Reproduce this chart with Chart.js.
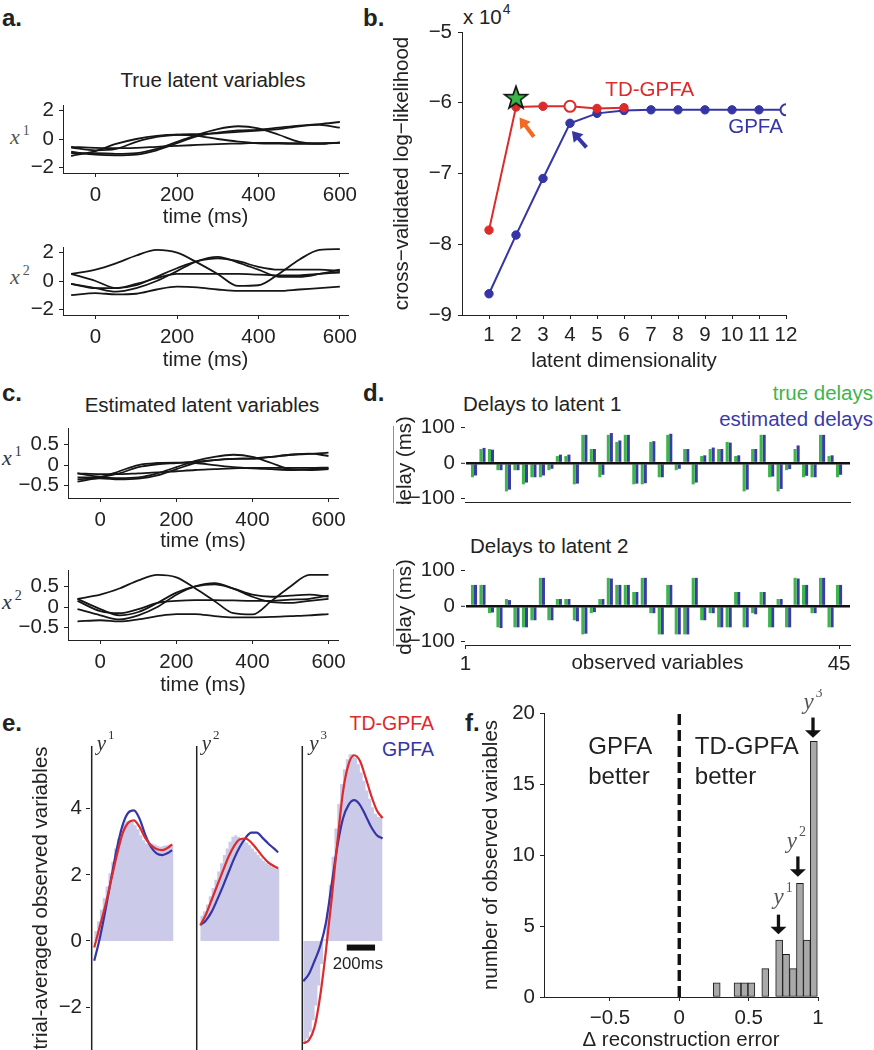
<!DOCTYPE html>
<html><head><meta charset="utf-8">
<script src="https://cdn.jsdelivr.net/npm/chart.js@4.4.0/dist/chart.umd.min.js"></script>
<style>
html,body{margin:0;padding:0;background:#fff;}
#page{position:relative;width:874px;height:1050px;overflow:hidden;font-family:'Liberation Sans',Arial,Helvetica,sans-serif;color:#222;}
canvas{position:absolute;}
.t{position:absolute;white-space:nowrap;font-size:20.5px;line-height:24px;}
.L{position:absolute;font-weight:bold;font-size:24px;line-height:28px;}
.m{position:absolute;white-space:nowrap;font-family:'Liberation Serif','DejaVu Serif',serif;font-style:italic;font-size:22px;line-height:26px;}
.sp{font-style:normal;font-size:14px;position:relative;top:-9px;margin-left:3px;}
.c{transform:translateX(-50%);}
</style></head>
<body><div id="page">
<div class="L" style="left:2px;top:4px">a.</div>
<div class="L" style="left:363px;top:4px">b.</div>
<div class="L" style="left:2px;top:379px">c.</div>
<div class="L" style="left:363px;top:379px">d.</div>
<div class="L" style="left:2px;top:709px">e.</div>
<div class="L" style="left:465px;top:709px">f.</div>
<div class="t c" style="left:213px;top:68px">True latent variables</div>
<div class="t c" style="left:202px;top:393px">Estimated latent variables</div>
<div class="t" style="left:463px;top:392px">Delays to latent 1</div>
<div class="t" style="left:470px;top:534px">Delays to latent 2</div>
<div class="t" style="right:1px;top:381px;color:#3cb64b">true delays</div>
<div class="t" style="right:1px;top:407px;color:#3a3aa8">estimated delays</div>
<div class="t" style="left:463px;top:5px">x 10<span style="font-size:14px;position:relative;top:-10px;margin-left:1px">4</span></div>
<div class="t" style="right:440px;top:711px;font-size:19.5px;color:#dd2a2a">TD-GPFA</div>
<div class="t" style="right:440px;top:737px;font-size:19.5px;color:#3535a5">GPFA</div>
<div class="m" style="left:10px;top:124px;color:#555"><i>x</i><span class="sp">1</span></div>
<div class="m" style="left:10px;top:264px;color:#555"><i>x</i><span class="sp">2</span></div>
<div class="m" style="left:2px;top:445px;color:#333"><i>x</i><span class="sp">1</span></div>
<div class="m" style="left:2px;top:589px;color:#333"><i>x</i><span class="sp">2</span></div>
</div>
<script>
// ---------------- DATA ----------------
// panels a & c: time samples (ms) and 5 trials per latent
const tLatent = [-60,0,50,100,150,200,250,300,350,400,450,500,550,600];
const trueX1 = [
  [-0.55,-0.62,-0.65,-0.62,-0.55,-0.48,-0.42,-0.36,-0.32,-0.28,-0.28,-0.3,-0.3,-0.26],
  [-1.2,-0.85,-0.35,0.0,0.22,0.3,0.22,0.0,-0.18,-0.3,-0.32,-0.35,-0.32,-0.25],
  [-1.0,-1.0,-1.05,-1.0,-0.7,-0.2,0.3,0.7,0.9,0.75,0.3,-0.2,-0.35,-0.25],
  [-0.9,-1.1,-1.15,-1.1,-0.8,-0.3,0.2,0.45,0.6,0.65,0.8,0.95,1.05,1.2],
  [-0.6,-0.8,-0.7,-0.2,0.15,0.3,0.35,0.4,0.5,0.6,0.7,0.9,1.0,0.8]
];
const trueX2 = [
  [0.5,0.8,1.25,1.8,2.2,2.0,1.3,0.5,-0.35,-0.3,0.5,1.5,2.2,2.25],
  [0.5,0.0,-0.5,-0.3,0.3,0.9,1.4,1.6,1.4,1.0,0.8,0.8,0.8,0.7],
  [-0.2,-0.5,-0.75,-0.5,0.0,0.7,1.4,1.7,1.3,0.8,0.3,0.3,0.5,0.8],
  [-0.2,-0.5,-0.5,-0.2,0.2,0.5,0.5,0.5,0.5,0.45,0.4,0.4,0.5,0.6],
  [-1.0,-0.85,-0.95,-0.9,-0.6,-0.4,-0.45,-0.6,-0.7,-0.7,-0.7,-0.6,-0.5,-0.4]
];
const estX1 = [
  [-0.2,-0.22,-0.22,-0.2,-0.18,-0.15,-0.12,-0.1,-0.08,-0.07,-0.07,-0.07,-0.07,-0.06],
  [-0.4,-0.3,-0.15,0.0,0.05,0.06,0.05,0.0,-0.05,-0.08,-0.1,-0.12,-0.1,-0.08],
  [-0.3,-0.3,-0.32,-0.3,-0.2,-0.05,0.1,0.2,0.25,0.2,0.05,-0.1,-0.12,-0.1],
  [-0.35,-0.32,-0.35,-0.33,-0.25,-0.1,0.05,0.12,0.15,0.15,0.2,0.25,0.27,0.3],
  [-0.2,-0.28,-0.2,-0.05,0.02,0.05,0.08,0.12,0.15,0.17,0.2,0.25,0.28,0.22]
];
const estX2 = [
  [0.2,0.3,0.45,0.65,0.78,0.72,0.45,0.15,-0.15,-0.18,0.15,0.5,0.78,0.78],
  [0.2,-0.05,-0.2,-0.12,0.1,0.35,0.5,0.55,0.45,0.3,0.25,0.28,0.3,0.25],
  [-0.05,-0.2,-0.3,-0.2,0.0,0.3,0.5,0.58,0.45,0.25,0.12,0.1,0.15,0.2],
  [0.15,-0.1,-0.15,-0.05,0.1,0.15,0.17,0.17,0.16,0.15,0.15,0.18,0.2,0.28],
  [-0.35,-0.32,-0.35,-0.3,-0.22,-0.17,-0.17,-0.22,-0.25,-0.25,-0.24,-0.22,-0.2,-0.17]
];
// panel b: cross-validated log-likelihood (units of 10^4)
const dims = [1,2,3,4,5,6,7,8,9,10,11,12];
const llTD = [-7.80,-6.06,-6.05,-6.05,-6.08,-6.07];
const llGPFA = [-8.70,-7.87,-7.07,-6.29,-6.15,-6.11,-6.10,-6.10,-6.10,-6.10,-6.10,-6.10];
const chosenTD = 4, chosenGPFA = 12;
const trueDim = {dim:2, ll:-5.93};
// panel d: delays (ms) for 45 observed variables
const obsVars = [1,2,3,4,5,6,7,8,9,10,11,12,13,14,15,16,17,18,19,20,21,22,23,24,25,26,27,28,29,30,31,32,33,34,35,36,37,38,39,40,41,42,43,44,45];
const trueDelay1 = [0,-40,40,40,-20,-80,-20,-60,-40,-40,-20,20,20,-60,80,40,-40,80,60,80,-60,-60,60,-40,80,-20,40,-60,20,40,40,60,20,-80,40,80,-40,-80,-20,40,-40,-40,80,20,-40];
const estDelay1  = [0,-35,43,38,-20,-75,-20,-55,-40,-35,-16,24,24,-58,80,40,-33,85,64,80,-58,-57,62,-40,83,-16,40,-55,22,44,40,58,22,-75,40,80,-38,-73,-17,50,-36,-40,80,22,-33];
const trueDelay2 = [0,60,60,-20,-60,20,-60,-60,-40,80,-40,20,20,-40,-80,-20,20,80,60,60,40,80,-20,-80,60,-80,-80,80,-40,-20,-60,-60,40,-60,-20,40,-60,20,-60,80,60,-20,80,-60,60];
const estDelay2  = [0,60,60,-18,-62,17,-60,-60,-40,80,-40,20,20,-43,-78,-17,20,78,60,60,40,80,-20,-80,60,-80,-80,80,-40,-20,-60,-60,40,-60,-23,40,-60,20,-60,78,60,-20,80,-60,60];
// panel e: trial-averaged observed variables
const tCurve12 = [0,40,80,120,160,200,240,280,320,360,400,440,480,520,550];
const tCurve3  = [0,40,80,120,160,200,240,280,320,360,400,440,480,520,560];
const y1TD = [-0.2,0.45,1.1,1.85,2.6,3.25,3.58,3.65,3.45,3.12,2.9,2.78,2.75,2.82,2.92];
const y1GP = [-0.6,0.1,0.95,1.9,2.8,3.5,3.88,3.95,3.7,3.22,2.85,2.65,2.6,2.66,2.75];
const y2TD = [0.48,0.8,1.24,1.68,2.12,2.55,2.88,3.08,3.1,2.98,2.78,2.56,2.38,2.27,2.2];
const y2GP = [0.48,0.62,0.88,1.25,1.65,2.08,2.5,2.85,3.12,3.28,3.28,3.12,2.95,2.8,2.68];
const y3TD = [-3.1,-3.0,-2.6,-1.65,-0.3,1.25,2.95,4.5,5.35,5.62,5.45,4.95,4.4,3.95,3.72];
const y3GP = [-1.22,-1.0,-0.6,-0.15,0.55,1.7,2.85,3.7,4.12,4.26,4.12,3.8,3.45,3.2,3.1];
const binStart = [0,20,40,60,80,100,120,140,160,180,200,220,240,260,280,300,320,340,360,380,400,420,440,460,480,500,520,540];
const binWidthMs = 20;
const y1Obs = [0.0,0.3,0.6,0.95,1.3,1.65,2.05,2.4,2.8,3.1,3.35,3.55,3.62,3.65,3.6,3.5,3.38,3.2,3.05,2.95,2.95,2.95,2.92,2.88,2.85,2.88,2.9,2.92];
const y2Obs = [0.76,0.76,0.9,1.1,1.35,1.6,1.85,2.1,2.35,2.6,2.8,3.0,3.15,3.2,3.15,3.1,3.05,2.98,2.9,2.8,2.7,2.6,2.5,2.42,2.35,2.3,2.25,2.2];
const y3Obs = [-3.05,-3.05,-2.95,-2.75,-2.4,-1.95,-1.35,-0.7,0.05,0.85,1.7,2.55,3.4,4.15,4.75,5.2,5.5,5.65,5.65,5.55,5.35,5.1,4.85,4.55,4.3,4.05,3.85,3.75];
const scaleBarMs = 200;
// panel f: histogram of delta reconstruction error
const binCenters = [0.27,0.42,0.47,0.52,0.62,0.72,0.77,0.82,0.87,0.92,0.97];
const binCounts  = [1,1,1,1,2,4,3,2,8,4,18];

// ---------------- HELPERS ----------------
const FF = "'Liberation Sans', Arial, Helvetica, sans-serif";
const TXT = '#222';
Chart.defaults.font.family = FF;
Chart.defaults.color = TXT;
const RED = '#dd2a2a', BLUE = '#3535a5', GREEN = '#3cb64b', DBLUE = '#3a3aa8';
const page = document.getElementById('page');
const fnt = s => ({family: FF, size: s});
const fmt = v => (v < 0 ? '\u2212' + String(Math.abs(v)) : String(v));

function yAxis(o) {
  return {
    type:'linear', position:'left', min:o.min, max:o.max,
    border:{display:o.border !== false, color:'#222', width:1},
    grid:Object.assign({drawOnChartArea:false, drawTicks:true, tickLength:4, color:'#222', lineWidth:1}, o.grid || {}),
    ticks:{font:fnt(20.5), color:TXT, padding:(o.pad ?? 5), autoSkip:false, callback:v => fmt(v)},
    afterBuildTicks: s => { s.ticks = o.ticks.map(v => ({value:v})); },
    afterFit: s => { s.width = o.L; s.paddingTop = 0; s.paddingBottom = 0; },
    title: o.title ? {display:true, text:o.title, font:fnt(20.5), color:TXT, padding:{top:0, bottom:0}} : {display:false}
  };
}
function xAxis(o) {
  return {
    type:'linear', position:'bottom', min:o.min, max:o.max, offset:false,
    border:{display:true, color:'#222', width:1},
    grid:{drawOnChartArea:false, drawTicks:o.showTicks !== false, tickLength:4, color:'#222', offset:false},
    ticks:{display:o.showTicks !== false, font:fnt(20.5), color:TXT, padding:(o.pad ?? 6), autoSkip:false, maxRotation:0, callback:v => fmt(v)},
    afterBuildTicks: s => { s.ticks = (o.ticks || []).map(v => ({value:v})); },
    afterFit: s => { s.height = o.B; s.paddingLeft = 0; s.paddingRight = 0; },
    title: o.title ? {display:true, text:o.title, font:fnt(20.5), color:TXT, padding:{top:0, bottom:0}} : {display:false}
  };
}

const annot = {
  id:'annot',
  afterDatasetsDraw(chart, args, opts) {
    const items = opts.items || [];
    const ctx = chart.ctx, xs = chart.scales.x, ys = chart.scales.y;
    const X = v => xs.getPixelForValue(v), Y = v => ys.getPixelForValue(v);
    ctx.save();
    for (const it of items) {
      if (it.type === 'text') {
        ctx.font = it.font || ('20.5px ' + FF);
        ctx.fillStyle = it.color || TXT; ctx.textAlign = it.align || 'left'; ctx.textBaseline = 'middle';
        ctx.fillText(it.text, X(it.x) + (it.dx || 0), Y(it.y) + (it.dy || 0));
      } else if (it.type === 'math') {
        const sz = it.size || 21;
        ctx.font = 'italic ' + sz + "px 'Liberation Serif', serif";
        const wb = ctx.measureText(it.base).width;
        ctx.font = Math.round(sz * 0.62) + "px 'Liberation Serif', serif";
        const ws = ctx.measureText(it.sup).width;
        let px = X(it.x) + (it.dx || 0); const py = Y(it.y) + (it.dy || 0);
        if (it.align === 'center') px -= (wb + 2 + ws) / 2;
        ctx.fillStyle = it.color || '#444'; ctx.textAlign = 'left'; ctx.textBaseline = 'middle';
        ctx.font = 'italic ' + sz + "px 'Liberation Serif', serif";
        ctx.fillText(it.base, px, py);
        ctx.font = Math.round(sz * 0.62) + "px 'Liberation Serif', serif";
        ctx.fillText(it.sup, px + wb + 2, py - sz * 0.42);
      } else if (it.type === 'arrow') {
        const x1 = X(it.x1), y1 = Y(it.y1), x2 = X(it.x2), y2 = Y(it.y2);
        const dx = x2 - x1, dy = y2 - y1, len = Math.hypot(dx, dy), ux = dx / len, uy = dy / len;
        const hx = x2 - ux * it.head, hy = y2 - uy * it.head;
        ctx.strokeStyle = it.color; ctx.lineWidth = it.width; ctx.lineCap = 'butt';
        ctx.beginPath(); ctx.moveTo(x1, y1); ctx.lineTo(hx + ux, hy + uy); ctx.stroke();
        ctx.fillStyle = it.color; ctx.beginPath(); ctx.moveTo(x2, y2);
        ctx.lineTo(hx - uy * it.hw, hy + ux * it.hw); ctx.lineTo(hx + uy * it.hw, hy - ux * it.hw);
        ctx.closePath(); ctx.fill();
      }
    }
    ctx.restore();
  }
};

function build(area, ext, cfg) {
  const W = area.r - area.l + ext.L + ext.R, H = area.b - area.t + ext.T + ext.B;
  const cv = document.createElement('canvas');
  cv.width = W; cv.height = H;
  Object.assign(cv.style, {left:(area.l - ext.L) + 'px', top:(area.t - ext.T) + 'px', width:W + 'px', height:H + 'px'});
  page.appendChild(cv);
  const base = {responsive:false, animation:false, events:[], devicePixelRatio:1,
    layout:{padding:{top:ext.T, right:ext.R, left:(ext.padL || 0), bottom:(ext.padB || 0)}, autoPadding:false}};
  cfg.options = Object.assign(base, cfg.options || {});
  cfg.options.plugins = Object.assign({legend:{display:false}, tooltip:{enabled:false}, title:{display:false}}, cfg.options.plugins || {});
  cfg.plugins = [annot];
  return new Chart(cv, cfg);
}

function latent(area, ext, series, xr, yr, yticks) {
  return build(area, ext, {
    type:'line',
    data:{datasets:series.map(s => ({
      data:tLatent.map((t, i) => ({x:t, y:s[i]})),
      borderColor:'#161616', borderWidth:1.8, pointRadius:0, cubicInterpolationMode:'monotone', fill:false
    }))},
    options:{scales:{
      x:xAxis({min:xr[0], max:xr[1], ticks:[0,200,400,600], B:ext.B, title:'time (ms)', pad:6}),
      y:yAxis({min:yr[0], max:yr[1], ticks:yticks, L:ext.L, pad:5})
    }}
  });
}

// ---------------- PANEL a ----------------
latent({l:63,t:105,r:348,b:173}, {L:62,T:8,R:22,B:57}, trueX1, [-80,620], [-2.4,2.4], [-2,0,2]);
latent({l:63,t:247,r:348,b:315}, {L:62,T:8,R:22,B:58}, trueX2, [-80,620], [-2.4,2.4], [-2,0,2]);
// ---------------- PANEL c ----------------
latent({l:68,t:428,r:338,b:498}, {L:66,T:8,R:22,B:56}, estX1, [-85,625], [-0.8,0.9], [-0.5,0,0.5]);
latent({l:68,t:570,r:338,b:640}, {L:66,T:8,R:22,B:58}, estX2, [-85,625], [-0.8,0.9], [-0.5,0,0.5]);

// ---------------- PANEL b ----------------
(function(){
  const star = document.createElement('canvas'); star.width = 28; star.height = 28;
  const sc = star.getContext('2d'); sc.beginPath();
  for (let k = 0; k < 10; k++) {
    const r = k % 2 ? 4.8 : 12, a = -Math.PI / 2 + k * Math.PI / 5;
    const px = 14 + r * Math.cos(a), py = 14.5 + r * Math.sin(a);
    k ? sc.lineTo(px, py) : sc.moveTo(px, py);
  }
  sc.closePath(); sc.fillStyle = '#3bb54a'; sc.fill(); sc.lineWidth = 1.6; sc.strokeStyle = '#111'; sc.stroke();
  build({l:462,t:32,r:786,b:315}, {L:72,T:14,R:20,B:59}, {
    type:'line',
    data:{datasets:[
      {data:[{x:trueDim.dim, y:trueDim.ll}], showLine:false, pointStyle:star, pointRadius:12, order:0},
      {data:llTD.map((v,i) => ({x:dims[i], y:v})), borderColor:RED, borderWidth:2,
       pointBackgroundColor:llTD.map((v,i) => dims[i] === chosenTD ? '#fff' : RED), pointBorderColor:RED,
       pointBorderWidth:llTD.map((v,i) => dims[i] === chosenTD ? 2 : 1),
       pointRadius:llTD.map((v,i) => dims[i] === chosenTD ? 5.5 : 4.2), order:1},
      {data:llGPFA.map((v,i) => ({x:dims[i], y:v})), borderColor:BLUE, borderWidth:2,
       pointBackgroundColor:llGPFA.map((v,i) => dims[i] === chosenGPFA ? '#fff' : BLUE), pointBorderColor:BLUE,
       pointBorderWidth:llGPFA.map((v,i) => dims[i] === chosenGPFA ? 2 : 1),
       pointRadius:llGPFA.map((v,i) => dims[i] === chosenGPFA ? 5.5 : 4.2), order:2}
    ]},
    options:{
      scales:{
        x:xAxis({min:0, max:12, ticks:dims, B:59, title:'latent dimensionality', pad:4}),
        y:yAxis({min:-9, max:-5, ticks:[-9,-8,-7,-6,-5], L:72, pad:6, title:'cross\u2212validated log\u2212likelihood'})
      },
      plugins:{annot:{items:[
        {type:'text', text:'TD-GPFA', x:5.31, y:-5.82, color:RED},
        {type:'text', text:'GPFA', x:9.86, y:-6.35, color:BLUE},
        {type:'arrow', x1:2.66, y1:-6.48, x2:2.13, y2:-6.21, color:'#f26a21', width:4, head:10, hw:6.5},
        {type:'arrow', x1:4.61, y1:-6.63, x2:4.07, y2:-6.40, color:BLUE, width:4, head:10, hw:6.5}
      ]}}
    }
  });
})();

// ---------------- PANEL d ----------------
function delays(area, ext, tr, es, bottom) {
  return build(area, ext, {
    type:'bar',
    data:{datasets:[
      {data:obsVars.map((v,i) => ({x:v, y:tr[i]})), backgroundColor:GREEN, borderWidth:0},
      {data:obsVars.map((v,i) => ({x:v, y:es[i]})), backgroundColor:DBLUE, borderWidth:0}
    ]},
    options:{
      datasets:{bar:{categoryPercentage:0.72, barPercentage:1.0}},
      scales:{
        x:xAxis({min:0.94, max:46.29, ticks:bottom ? [1,45] : [], B:ext.B, showTicks:bottom, pad:3,
                 title:bottom ? 'observed variables' : null}),
        y:yAxis({min:-110, max:105, ticks:[-100,0,100], L:72, pad:6, title:'delay (ms)',
                 grid:{drawOnChartArea:true, z:1,
                   color:c => (c.tick && c.tick.value === 0) ? '#111' : 'rgba(0,0,0,0)',
                   lineWidth:c => (c.tick && c.tick.value === 0) ? 2.6 : 1,
                   tickColor:'#222', tickWidth:1}})
      }
    }
  });
}
delays({l:465,t:426,r:850,b:502}, {L:72,T:12,R:24,B:2}, trueDelay1, estDelay1, false);
delays({l:465,t:569,r:850,b:645}, {L:72,T:12,R:24,B:31}, trueDelay2, estDelay2, true);

// ---------------- PANEL e ----------------
(function(){
  const yMin = -3.3, yMax = 5.9;
  const lineAt = [0, 742, 1488];      // sub-panel axis positions (ms on the shared time axis)
  const dataAt = [18, 767, 1495];     // where each sub-panel's data starts
  const obs = [y1Obs, y2Obs, y3Obs];
  const td = [y1TD, y2TD, y3TD], gp = [y1GP, y2GP, y3GP];
  const tc = [tCurve12, tCurve12, tCurve3];
  const ds = [];
  obs.forEach((o, k) => {
    const pts = binStart.map((t, i) => ({x:dataAt[k] + t, y:o[i]}));
    pts.push({x:dataAt[k] + binStart[binStart.length-1] + binWidthMs, y:o[o.length-1]});
    ds.push({data:pts, stepped:'after', fill:'origin', backgroundColor:'rgb(203,203,233)', borderWidth:0, pointRadius:0, order:10});
  });
  lineAt.forEach(x0 => ds.push({data:[{x:x0, y:yMin},{x:x0, y:yMax}], borderColor:'#222', borderWidth:1.5, pointRadius:0, order:9}));
  gp.forEach((g, k) => ds.push({data:tc[k].map((t,i) => ({x:dataAt[k]+t, y:g[i]})), borderColor:BLUE, borderWidth:2.2, pointRadius:0, cubicInterpolationMode:'monotone', order:5}));
  td.forEach((g, k) => ds.push({data:tc[k].map((t,i) => ({x:dataAt[k]+t, y:g[i]})), borderColor:RED, borderWidth:2.2, pointRadius:0, cubicInterpolationMode:'monotone', order:4}));
  const barStart = dataAt[2] + 307;
  ds.push({data:[{x:barStart, y:-0.2},{x:barStart + scaleBarMs, y:-0.2}], borderColor:'#111', borderWidth:6, borderCapStyle:'butt', pointRadius:0, order:1});
  build({l:90,t:746,r:395,b:1050}, {L:61,T:16,R:10,B:0}, {
    type:'line',
    data:{datasets:ds},
    options:{
      scales:{
        x:{type:'linear', display:false, min:-12, max:2143},
        y:yAxis({min:yMin, max:yMax, ticks:[-2,0,2,4], L:61, pad:4, border:false, title:'trial-averaged observed variables'})
      },
      plugins:{annot:{items:[
        {type:'math', base:'y', sup:'1', x:lineAt[0], y:5.95, dx:5, color:'#333'},
        {type:'math', base:'y', sup:'2', x:lineAt[1], y:5.95, dx:5, color:'#333'},
        {type:'math', base:'y', sup:'3', x:lineAt[2], y:5.95, dx:7, color:'#333'},
        {type:'text', text:'200ms', x:barStart + scaleBarMs/2, y:-0.7, dx:-3, align:'center', font:'16.8px ' + FF}
      ]}}
    }
  });
})();

// ---------------- PANEL f ----------------
build({l:544,t:713,r:818,b:997}, {L:65,T:24,R:20,B:56}, {
  type:'bar',
  data:{datasets:[
    {type:'line', data:[{x:0,y:0},{x:0,y:20}], borderColor:'#111', borderWidth:3.4, borderDash:[11,5], pointRadius:0, order:0},
    {data:binCenters.map((c,i) => ({x:c, y:binCounts[i]})), backgroundColor:'#a9a9a9', borderColor:'#1a1a1a', borderWidth:1, borderSkipped:false, categoryPercentage:1, barPercentage:1, order:1}
  ]},
  options:{
    scales:{
      x:xAxis({min:-0.975, max:1.0, ticks:[-0.5,0,0.5,1], B:56, title:'\u0394 reconstruction error', pad:5}),
      y:yAxis({min:0, max:20, ticks:[0,5,10,15,20], L:65, pad:5, title:'number of observed variables'})
    },
    plugins:{annot:{items:[
      {type:'text', text:'GPFA', x:-0.656, y:17.6, font:'24px ' + FF},
      {type:'text', text:'better', x:-0.656, y:15.5, font:'24px ' + FF},
      {type:'text', text:'TD-GPFA', x:0.112, y:17.6, font:'24px ' + FF},
      {type:'text', text:'better', x:0.112, y:15.5, font:'24px ' + FF},
      {type:'arrow', x1:0.715, y1:5.8, x2:0.715, y2:4.42, color:'#111', width:3.3, head:7.5, hw:8},
      {type:'arrow', x1:0.855, y1:9.9, x2:0.855, y2:8.47, color:'#111', width:3.3, head:7.5, hw:8},
      {type:'arrow', x1:0.964, y1:19.68, x2:0.964, y2:18.25, color:'#111', width:3.3, head:7.5, hw:8},
      {type:'math', base:'y', sup:'1', x:0.748, y:6.95, align:'center', color:'#555', size:23},
      {type:'math', base:'y', sup:'2', x:0.844, y:10.95, align:'center', color:'#555', size:23},
      {type:'math', base:'y', sup:'3', x:0.964, y:20.7, align:'center', color:'#555', size:23}
    ]}}
  }
});
</script>
</body></html>
